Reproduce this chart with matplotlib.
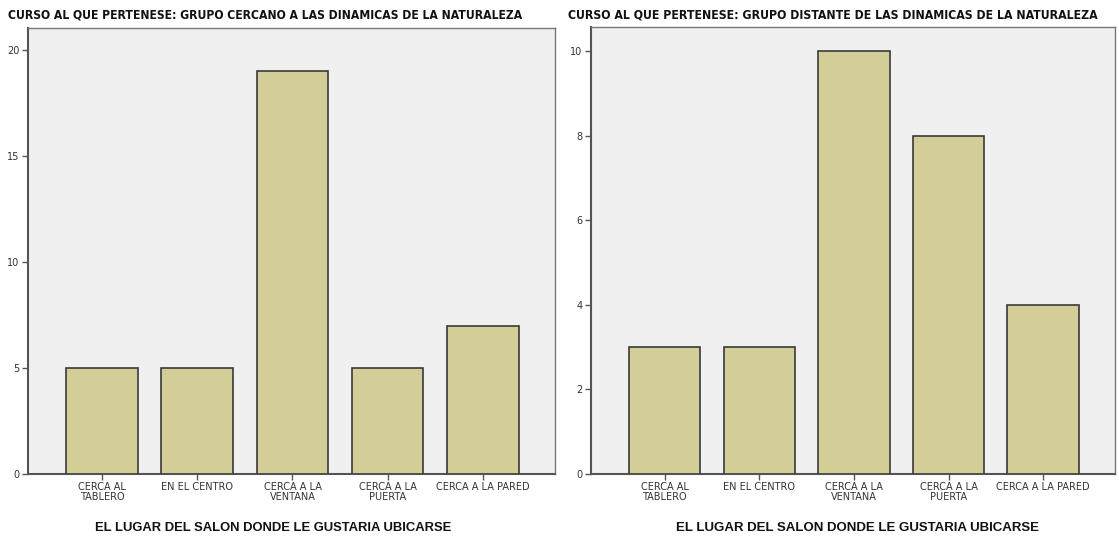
import matplotlib
matplotlib.use("Agg")
import matplotlib.pyplot as plt

categories = ["CERCA AL\nTABLERO", "EN EL CENTRO", "CERCA A LA\nVENTANA", "CERCA A LA\nPUERTA", "CERCA A LA PARED"]
cercano = [5, 5, 19, 5, 7]
distante = [3, 3, 10, 8, 4]
title_left = "CURSO AL QUE PERTENESE: GRUPO CERCANO A LAS DINAMICAS DE LA NATURALEZA"
title_right = "CURSO AL QUE PERTENESE: GRUPO DISTANTE DE LAS DINAMICAS DE LA NATURALEZA"
xlabel = "EL LUGAR DEL SALON DONDE LE GUSTARIA UBICARSE"
yticks_left = [0, 5, 10, 15, 20]
yticks_right = [0, 2, 4, 6, 8, 10]

W, H = 1119, 537
fig = plt.figure(figsize=(W/100, H/100), dpi=100)
fig.patch.set_facecolor("white")
renderer = fig.canvas.get_renderer()

def px(x0, y0, x1, y1):
    return [x0/W, 1 - y1/H, (x1-x0)/W, (y1-y0)/H]

def fit(t, width_px):
    w = t.get_window_extent(renderer).width
    t.set_fontsize(t.get_fontsize() * width_px / w)

def draw(rect, vals, yt, ymax, title, title_x, title_w, xl_cx, xl_w):
    ax = fig.add_axes(px(*rect))
    ax.set_facecolor("#f0f0f0")
    x = range(len(vals))
    ax.bar(x, vals, width=0.755, color="#d3ce97", edgecolor="#3a3a3a", linewidth=1.2, zorder=3)
    ax.set_xlim(-0.78, len(vals) - 1 + 0.76)
    ax.set_ylim(0, ymax)
    ax.set_yticks(yt)
    ax.set_yticklabels([str(v) for v in yt], fontsize=7, color="#333333")
    ax.set_xticks(list(x))
    ax.set_xticklabels(categories, fontsize=7, color="#333333", linespacing=0.95)
    ax.tick_params(axis="both", length=4, width=1, color="#555555", pad=2)
    for s in ax.spines.values():
        s.set_color("#777777")
        s.set_linewidth(1)
    ax.spines["left"].set_color("#555555")
    ax.spines["bottom"].set_color("#555555")
    ax.spines["left"].set_linewidth(1.5)
    ax.spines["bottom"].set_linewidth(1.5)
    xl = fig.text(xl_cx / W, 1 - 528 / H, xlabel, fontsize=10, fontweight="bold",
                  family=["Liberation Sans", "DejaVu Sans"], ha="center", va="center", color="#111111")
    fit(xl, xl_w)
    t = fig.text(title_x / W, 1 - 15 / H, title, fontsize=9.5, fontweight="bold",
                 family=["DejaVu Sans"], fontstretch="condensed",
                 ha="left", va="center", color="#111111")
    fit(t, title_w)
    return ax

draw((28, 28, 555, 474), cercano, yticks_left, 21.04, title_left, 8, 520, 273, 357)
draw((591, 27, 1115, 474), distante, yticks_right, 10.57, title_right, 568, 532, 857, 362)

fig.savefig("out.png", dpi=100)
